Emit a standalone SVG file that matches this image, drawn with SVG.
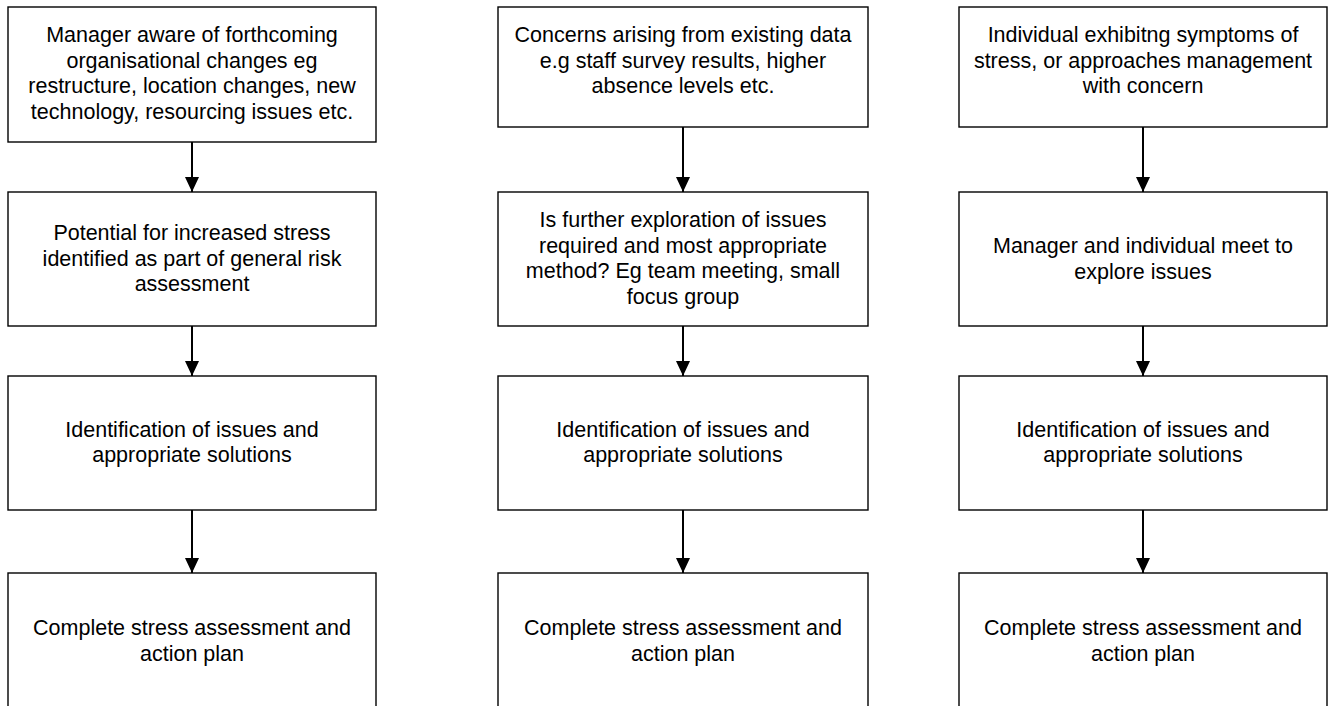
<svg xmlns="http://www.w3.org/2000/svg" width="1334" height="706" viewBox="0 0 1334 706">
<defs>
<marker id="ah" markerWidth="15" markerHeight="14" refX="15" refY="7" orient="auto" markerUnits="userSpaceOnUse" viewBox="0 0 15 14">
<path d="M0,0 L15,7 L0,14 Z" fill="#000"/>
</marker>
</defs>
<style>
rect{fill:#fff;stroke:#000;stroke-width:1.4}
text{font-family:"Liberation Sans",Arial,sans-serif;font-size:21.5px;fill:#000;text-anchor:middle}
.c line{stroke:#000;stroke-width:2}
</style>
<rect x="0" y="0" width="1334" height="706" style="stroke:none"/>
<g class="c" id="connectors">
<line x1="192" y1="142" x2="192" y2="192" marker-end="url(#ah)"/>
<line x1="192" y1="326" x2="192" y2="376" marker-end="url(#ah)"/>
<line x1="192" y1="510" x2="192" y2="573" marker-end="url(#ah)"/>
<line x1="683" y1="127" x2="683" y2="192" marker-end="url(#ah)"/>
<line x1="683" y1="326" x2="683" y2="376" marker-end="url(#ah)"/>
<line x1="683" y1="510" x2="683" y2="573" marker-end="url(#ah)"/>
<line x1="1143" y1="127" x2="1143" y2="192" marker-end="url(#ah)"/>
<line x1="1143" y1="326" x2="1143" y2="376" marker-end="url(#ah)"/>
<line x1="1143" y1="510" x2="1143" y2="573" marker-end="url(#ah)"/>
</g>
<g id="n1a"><rect x="8" y="7" width="368" height="135"/>
<text x="192" y="42">Manager aware of forthcoming</text>
<text x="192" y="67.5">organisational changes eg</text>
<text x="192" y="93">restructure, location changes, new</text>
<text x="192" y="118.5">technology, resourcing issues etc.</text></g>
<g id="n1b"><rect x="8" y="192" width="368" height="134"/>
<text x="192" y="240">Potential for increased stress</text>
<text x="192" y="265.5">identified as part of general risk</text>
<text x="192" y="291">assessment</text></g>
<g id="n1c"><rect x="8" y="376" width="368" height="134"/>
<text x="192" y="436.5">Identification of issues and</text>
<text x="192" y="462">appropriate solutions</text></g>
<g id="n1d"><rect x="8" y="573" width="368" height="150"/>
<text x="192" y="635">Complete stress assessment and</text>
<text x="192" y="660.5">action plan</text></g>

<g id="n2a"><rect x="498" y="7" width="370" height="120"/>
<text x="683" y="42">Concerns arising from existing data</text>
<text x="683" y="67.5">e.g staff survey results, higher</text>
<text x="683" y="93">absence levels etc.</text></g>
<g id="n2b"><rect x="498" y="192" width="370" height="134"/>
<text x="683" y="227">Is further exploration of issues</text>
<text x="683" y="252.5">required and most appropriate</text>
<text x="683" y="278">method? Eg team meeting, small</text>
<text x="683" y="303.5">focus group</text></g>
<g id="n2c"><rect x="498" y="376" width="370" height="134"/>
<text x="683" y="436.5">Identification of issues and</text>
<text x="683" y="462">appropriate solutions</text></g>
<g id="n2d"><rect x="498" y="573" width="370" height="150"/>
<text x="683" y="635">Complete stress assessment and</text>
<text x="683" y="660.5">action plan</text></g>

<g id="n3a"><rect x="959" y="7" width="368" height="120"/>
<text x="1143" y="42">Individual exhibitng symptoms of</text>
<text x="1143" y="67.5">stress, or approaches management</text>
<text x="1143" y="93">with concern</text></g>
<g id="n3b"><rect x="959" y="192" width="368" height="134"/>
<text x="1143" y="253">Manager and individual meet to</text>
<text x="1143" y="278.5">explore issues</text></g>
<g id="n3c"><rect x="959" y="376" width="368" height="134"/>
<text x="1143" y="436.5">Identification of issues and</text>
<text x="1143" y="462">appropriate solutions</text></g>
<g id="n3d"><rect x="959" y="573" width="368" height="150"/>
<text x="1143" y="635">Complete stress assessment and</text>
<text x="1143" y="660.5">action plan</text></g>
</svg>
